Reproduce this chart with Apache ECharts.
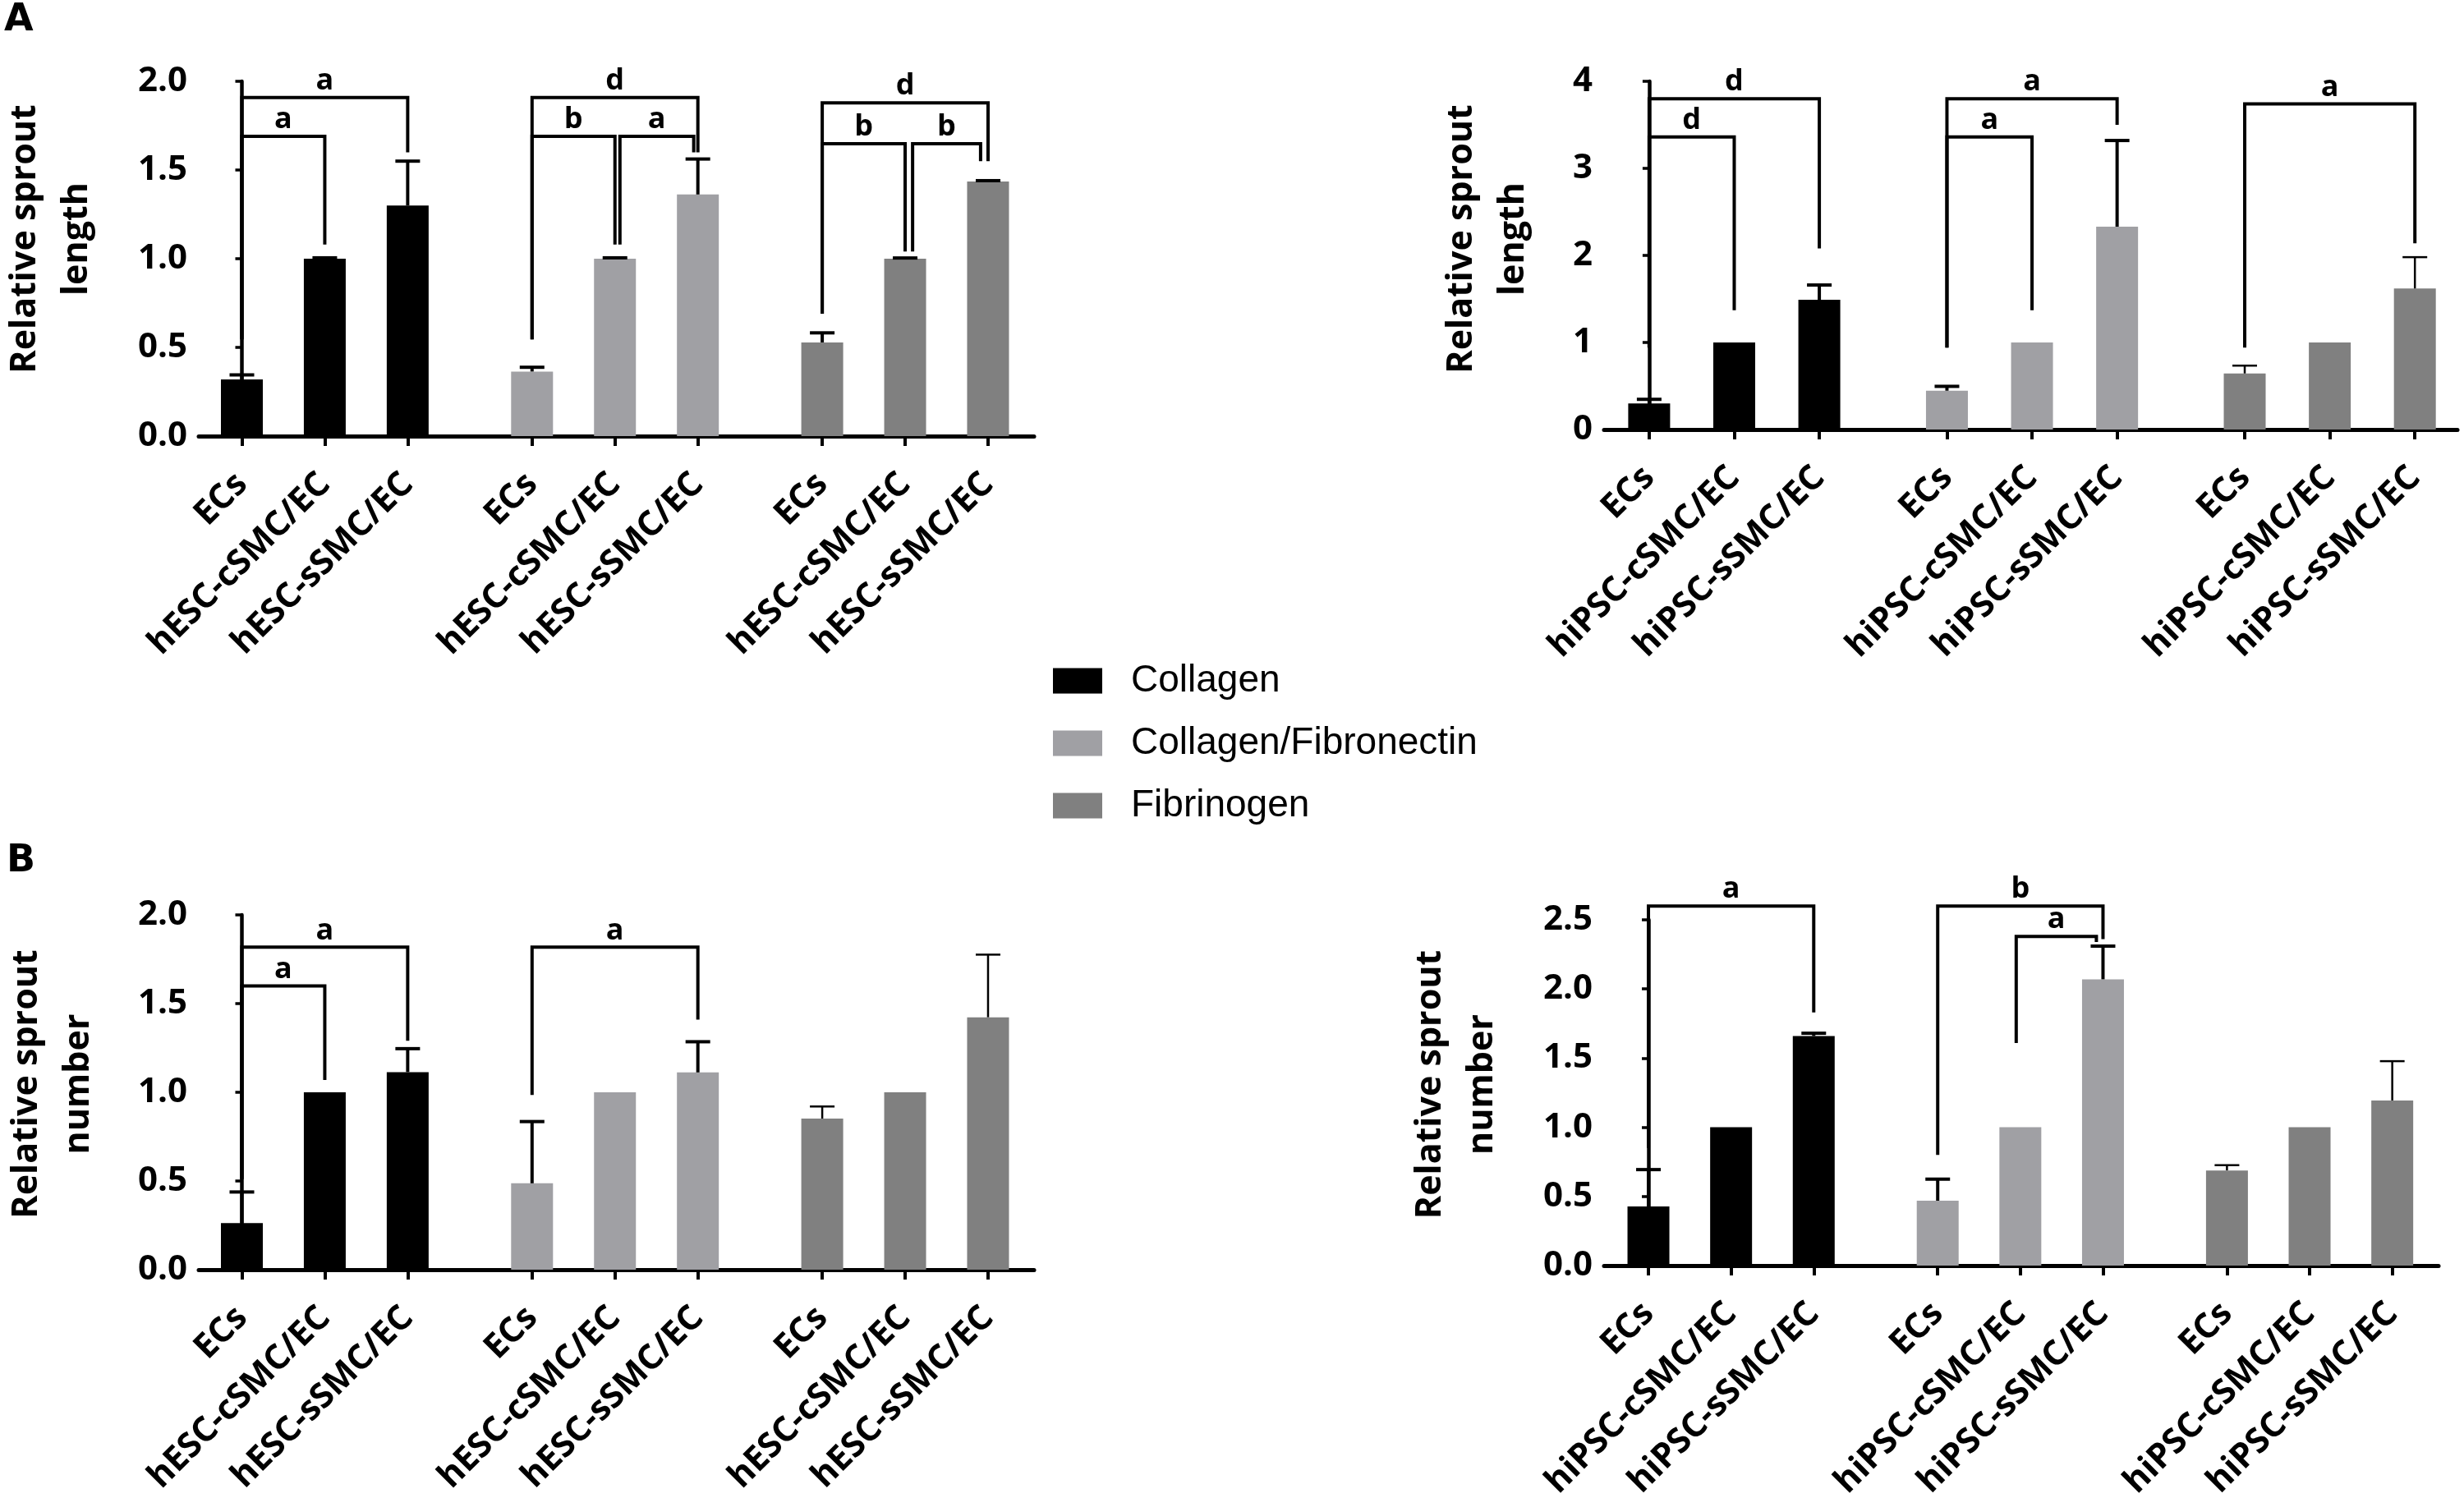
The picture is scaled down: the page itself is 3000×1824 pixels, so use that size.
<!DOCTYPE html>
<html>
<head>
<meta charset="utf-8">
<title>Relative sprout length and number</title>
<script src="https://cdn.jsdelivr.net/npm/echarts@6.0.0/dist/echarts.min.js"></script>
<style>
  html, body { margin: 0; padding: 0; background: #fff; }
  #main { width: 3000px; height: 1824px; }
</style>
</head>
<body>
<div id="main"></div>
<script>
// bar positions along x (three groups of three, gap of 1.5 slots between groups)
var xPos = [0, 1, 2, 3.5, 4.5, 5.5, 7, 8, 9];
var hescLabels = ['ECs', 'hESC-cSMC/EC', 'hESC-sSMC/EC', 'ECs', 'hESC-cSMC/EC', 'hESC-sSMC/EC', 'ECs', 'hESC-cSMC/EC', 'hESC-sSMC/EC'];
var hipscLabels = ['ECs', 'hiPSC-cSMC/EC', 'hiPSC-sSMC/EC', 'ECs', 'hiPSC-cSMC/EC', 'hiPSC-sSMC/EC', 'ECs', 'hiPSC-cSMC/EC', 'hiPSC-sSMC/EC'];
var matrices = ['Collagen', 'Collagen/Fibronectin', 'Fibrinogen'];
var matrixColors = ['#000000', '#a0a0a4', '#808080'];

// A left: relative sprout length, hESC
var lengthHescMean = [0.32, 1.00, 1.30, 0.364, 1.00, 1.362, 0.528, 1.00, 1.435];
var lengthHescSem  = [0.025, 0.005, 0.25, 0.024, 0.005, 0.20, 0.054, 0.004, 0.005];
// [x1, x2, top, left leg end, right leg end]
var lengthHescBrackets = [
  [0, 2, 1.908, 0.545, 1.60], [0, 1, 1.69, 0.545, 1.08],
  [3.5, 5.5, 1.908, 0.545, 1.60], [3.5, 4.5, 1.69, 0.545, 1.08], [4.56, 5.45, 1.69, 1.08, 1.60],
  [7, 9, 1.879, 0.69, 1.55], [7, 8.0, 1.648, 0.69, 1.04], [8.09, 8.91, 1.648, 1.04, 1.55]
];
var lengthHescSig = ['a', 'a', 'd', 'b', 'a', 'd', 'b', 'b'];

// A right: relative sprout length, hiPSC
var lengthHipscMean = [0.30, 1.00, 1.49, 0.446, 1.00, 2.33, 0.644, 1.00, 1.62];
var lengthHipscSem  = [0.047, 0, 0.17, 0.05, 0, 0.99, 0.09, 0, 0.36];
var lengthHipscBrackets = [
  [0, 2, 3.80, 0.94, 2.08], [0, 1, 3.36, 0.94, 1.37],
  [3.5, 5.5, 3.80, 0.94, 3.50], [3.5, 4.5, 3.36, 0.94, 1.37],
  [7, 9, 3.74, 0.94, 2.14]
];
var lengthHipscSig = ['d', 'd', 'a', 'a', 'a'];

// B left: relative sprout number, hESC
var numberHescMean = [0.263, 1.00, 1.114, 0.487, 1.00, 1.112, 0.852, 1.00, 1.423];
var numberHescSem  = [0.175, 0, 0.132, 0.348, 0, 0.173, 0.068, 0, 0.353];
var numberHescBrackets = [
  [0, 2, 1.818, 0.51, 1.29], [0, 1, 1.60, 0.51, 1.07],
  [3.5, 5.5, 1.818, 0.985, 1.41]
];
var numberHescSig = ['a', 'a', 'a'];

// B right: relative sprout number, hiPSC
var numberHipscMean = [0.428, 1.00, 1.66, 0.469, 1.00, 2.07, 0.688, 1.00, 1.194];
var numberHipscSem  = [0.266, 0, 0.02, 0.156, 0, 0.24, 0.038, 0, 0.284];
var numberHipscBrackets = [
  [0, 2, 2.60, 0.85, 1.83],
  [3.5, 5.5, 2.60, 0.80, 2.36], [4.45, 5.42, 2.38, 1.61, 2.34]
];
var numberHipscSig = ['a', 'b', 'a'];

var panels = [
  { mean: lengthHescMean, sem: lengthHescSem, labels: hescLabels, brackets: lengthHescBrackets, sig: lengthHescSig,
    yMax: 2, yStep: 0.5, digits: 1, name: 'Relative sprout\nlength',
    grid: { left: 242, top: 99, width: 1017, height: 432 }, xMin: -0.52, xMax: 9.555,
    nameGap: 117, nameShift: 48, errWidth: [4, 4, 4] },
  { mean: lengthHipscMean, sem: lengthHipscSem, labels: hipscLabels, brackets: lengthHipscBrackets, sig: lengthHipscSig,
    yMax: 4, yStep: 1, digits: 0, name: 'Relative sprout\nlength',
    grid: { left: 1953, top: 99, width: 1039, height: 424 }, xMin: -0.53, xMax: 9.5,
    nameGap: 79, nameShift: 40, errWidth: [4, 4, 2.5] },
  { mean: numberHescMean, sem: numberHescSem, labels: hescLabels, brackets: numberHescBrackets, sig: numberHescSig,
    yMax: 2, yStep: 0.5, digits: 1, name: 'Relative sprout\nnumber',
    grid: { left: 242, top: 1114, width: 1017, height: 432 }, xMin: -0.52, xMax: 9.555,
    nameGap: 115, nameShift: 20, errWidth: [4, 4, 2.5] },
  { mean: numberHipscMean, sem: numberHipscSem, labels: hipscLabels, brackets: numberHipscBrackets, sig: numberHipscSig,
    yMax: 2.5, yStep: 0.5, digits: 1, name: 'Relative sprout\nnumber',
    grid: { left: 1953, top: 1120, width: 1016, height: 421 }, xMin: -0.537, xMax: 9.56,
    nameGap: 117, nameShift: 20, errWidth: [4, 4, 2.5] }
];

var tickFont = 'Open Sans';

var grids = [], xAxes = [], yAxes = [], series = [];

panels.forEach(function (p, pi) {
  grids.push(Object.assign({ outerBoundsMode: 'none', containLabel: false }, p.grid));

  xAxes.push({
    type: 'value',
    gridIndex: pi,
    min: p.xMin,
    max: p.xMax,
    splitLine: { show: false },
    axisLine: { lineStyle: { color: '#000', width: 5 } },
    axisTick: { customValues: xPos, length: 12, lineStyle: { color: '#000', width: 4 } },
    axisLabel: {
      customValues: xPos,
      rotate: 45,
      margin: 52,
      color: '#000',
      fontFamily: tickFont,
      fontWeight: 'bold',
      fontSize: 42,
      formatter: function (v) { return p.labels[xPos.indexOf(v)]; }
    }
  });

  yAxes.push({
    type: 'value',
    gridIndex: pi,
    min: 0,
    max: p.yMax,
    interval: p.yStep,
    splitLine: { show: false },
    axisLine: { show: true, lineStyle: { color: '#000', width: 4.5 } },
    axisTick: { show: true, length: 8, lineStyle: { color: '#000', width: 3.5 } },
    axisLabel: {
      margin: 14,
      color: '#000',
      fontFamily: tickFont,
      fontWeight: 'bold',
      fontSize: 42,
      padding: [4, 0, 0, 0],
      formatter: function (v) { return v.toFixed(p.digits); }
    },
    name: p.name,
    nameLocation: 'middle',
    nameGap: p.nameGap,
    nameTextStyle: {
      color: '#000',
      fontFamily: 'Open Sans',
      fontWeight: 'bold',
      fontSize: 43,
      lineHeight: 63,
      padding: [0, 0, 0, p.nameShift]
    }
  });

  // one bar series per matrix, so colours and legend follow the matrix
  matrices.forEach(function (m, k) {
    series.push({
      name: m,
      type: 'bar',
      xAxisIndex: pi,
      yAxisIndex: pi,
      barWidth: 51,
      barGap: '-100%',
      itemStyle: { color: matrixColors[k] },
      data: [0, 1, 2].map(function (j) { return [xPos[3 * k + j], p.mean[3 * k + j]]; })
    });
  });

  // error bars (upper only)
  var errData = [];
  xPos.forEach(function (x, i) {
    if (p.sem[i] > 0) errData.push([x, p.mean[i], p.mean[i] + p.sem[i], Math.floor(i / 3)]);
  });
  series.push({
    name: 'sem',
    type: 'custom',
    xAxisIndex: pi,
    yAxisIndex: pi,
    z: 5,
    encode: { x: 0, y: [1, 2] },
    data: errData,
    renderItem: function (params, api) {
      var x = api.value(0);
      var base = api.coord([x, api.value(1)]);
      var tip = api.coord([x, api.value(2)]);
      var w = p.errWidth[api.value(3)];
      return {
        type: 'group',
        children: [
          { type: 'line', shape: { x1: base[0], y1: base[1], x2: tip[0], y2: tip[1] },
            style: { stroke: '#000', lineWidth: w } },
          { type: 'line', shape: { x1: tip[0] - 15, y1: tip[1], x2: tip[0] + 15, y2: tip[1] },
            style: { stroke: '#000', lineWidth: w } }
        ]
      };
    }
  });

  // significance brackets
  series.push({
    name: 'sig',
    type: 'custom',
    xAxisIndex: pi,
    yAxisIndex: pi,
    z: 6,
    encode: { x: [0, 1], y: [2, 3, 4] },
    data: p.brackets,
    renderItem: function (params, api) {
      var x1 = api.value(0), x2 = api.value(1), top = api.value(2);
      var a = api.coord([x1, api.value(3)]);
      var b = api.coord([x1, top]);
      var c = api.coord([x2, top]);
      var d = api.coord([x2, api.value(4)]);
      return {
        type: 'group',
        children: [
          { type: 'polyline', shape: { points: [a, b, c, d] },
            style: { stroke: '#000', lineWidth: 4, fill: 'none', lineJoin: 'miter' } },
          { type: 'text',
            style: { x: (b[0] + c[0]) / 2, y: b[1] - 2, text: p.sig[params.dataIndex],
                     fill: '#000', font: 'bold 36px "Open Sans"', align: 'center', verticalAlign: 'bottom' } }
        ]
      };
    }
  });
});

var myChart = echarts.init(document.getElementById('main'));
var option = {
  backgroundColor: '#fff',
  animation: false,
  title: [
    { text: 'A', left: 5, top: 2, padding: 0, textStyle: { fontFamily: 'DejaVu Sans', fontWeight: 'bold', fontSize: 46, color: '#000' } },
    { text: 'B', left: 8, top: 1026, padding: 0, textStyle: { fontFamily: 'DejaVu Sans', fontWeight: 'bold', fontSize: 46, color: '#000' } }
  ],
  legend: {
    data: matrices,
    orient: 'vertical',
    left: 1277,
    top: 801,
    icon: 'rect',
    itemWidth: 60,
    itemHeight: 31,
    itemGap: 30,
    textStyle: {
      color: '#000',
      fontFamily: 'Liberation Sans',
      fontSize: 46,
      padding: [0, 0, 0, 30]
    }
  },
  grid: grids,
  xAxis: xAxes,
  yAxis: yAxes,
  series: series
};
myChart.setOption(option);
</script>
</body>
</html>
